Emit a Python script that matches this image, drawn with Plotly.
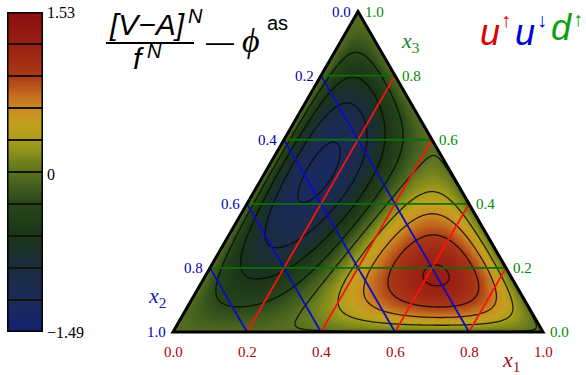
import numpy as np
import plotly.graph_objects as go

# ---------------- data ----------------
v_min, v_max = -1.49, 1.53          # colour range
n_bands = 10                        # number of colour bands / contour steps
# deviation from asymptotic DA: 120*x1*x2*x3*(c1*x1 + c2*x2 + c3*x3)
norm = 120.0
coef_x1, coef_x2, coef_x3 = 1.145, -0.473, -0.81
grid_ticks = [0.2, 0.4, 0.6, 0.8]
edge_ticks = [0.0, 0.2, 0.4, 0.6, 0.8, 1.0]
edge_text = ["0.0", "0.2", "0.4", "0.6", "0.8", "1.0"]
cbar_ticks = [1.53, 0.0, -1.49]
cbar_text = ["1.53", "0", "\u22121.49"]

colorscale = [
    [0.00, "#15206e"], [0.10, "#1a2a5a"], [0.20, "#1a2c40"],
    [0.30, "#1a3418"], [0.40, "#26461a"], [0.50, "#587020"],
    [0.55, "#808a1c"], [0.60, "#a89e1a"], [0.65, "#c4a020"],
    [0.70, "#cc8c22"], [0.75, "#c0661e"], [0.80, "#aa3a18"],
    [0.90, "#9a1e12"], [1.00, "#8a1010"],
]

# ---------------- geometry ----------------
H = np.sqrt(3) / 2
PX = 370.0                  # pixels per unit triangle side
OX, OY = 173.0, 332.0       # pixel position of bottom-left vertex
W, HH = 586, 375

def tern(x1, x2, x3):
    x1 = np.asarray(x1, float); x3 = np.asarray(x3, float)
    return x1 + x3 / 2, x3 * H

step = (v_max - v_min) / n_bands
levels = [v_min + step * k for k in range(1, n_bands)]

# field on grid
nx, ny = 320, 280
Xg = np.linspace(0, 1, nx)
Yg = np.linspace(0, H, ny)
XX, YY = np.meshgrid(Xg, Yg)
X3 = YY / H
X1 = XX - X3 / 2
X2 = 1 - X1 - X3
Z = norm * X1 * X2 * X3 * (coef_x1 * X1 + coef_x2 * X2 + coef_x3 * X3)

fig = go.Figure()
fig.add_trace(go.Contour(
    x=Xg, y=Yg, z=Z, colorscale=colorscale, zmin=v_min, zmax=v_max, zauto=False,
    contours=dict(start=levels[0], end=levels[-1] + step / 2, size=step, coloring="heatmap"),
    line=dict(color="rgba(10,10,0,0.85)", width=1.3), showscale=False, hoverinfo="skip",
))

red, blue, green = "#ff1010", "#0a0ac8", "#0a700a"
for c in grid_ticks:
    x, y = tern([c, c], [1 - c, 0], [0, 1 - c])
    fig.add_trace(go.Scatter(x=x, y=y, mode="lines", line=dict(color=red, width=1.8), hoverinfo="skip"))
for c in grid_ticks:
    x, y = tern([0, 1 - c], [c, c], [1 - c, 0])
    fig.add_trace(go.Scatter(x=x, y=y, mode="lines", line=dict(color=blue, width=1.8), hoverinfo="skip"))
for c in grid_ticks:
    x, y = tern([0, 1 - c], [1 - c, 0], [c, c])
    fig.add_trace(go.Scatter(x=x, y=y, mode="lines", line=dict(color=green, width=1.8), hoverinfo="skip"))

# colour bar
cb_vals = np.linspace(v_min, v_max, 151)
fig.add_trace(go.Heatmap(
    x=[0, 1], y=cb_vals, z=np.column_stack([cb_vals, cb_vals]),
    colorscale=colorscale, zmin=v_min, zmax=v_max, zsmooth="best",
    showscale=False, hoverinfo="skip", xaxis="x2", yaxis="y2",
))

shapes = []
# white mask outside triangle
shapes.append(dict(type="path", xref="x", yref="y", layer="above",
                   path=f"M -0.2 -0.2 L 1.2 -0.2 L 1.2 1.2 L -0.2 1.2 Z M 0 0 L 0.5 {H} L 1 0 Z",
                   fillcolor="white", line=dict(width=0)))
shapes.append(dict(type="path", xref="x", yref="y", layer="above",
                   path=f"M 0 0 L 0.5 {H} L 1 0 Z", line=dict(color="black", width=3)))
for lv in levels:
    shapes.append(dict(type="line", xref="x2", yref="y2", x0=0, x1=1, y0=lv, y1=lv,
                       line=dict(color="#1a1208", width=2)))
shapes.append(dict(type="rect", xref="x2", yref="y2", x0=0, x1=1, y0=v_min, y1=v_max,
                   line=dict(color="black", width=3)))

def ppx(px):
    return px / W
def ppy(py):
    return 1 - py / HH

# fraction bar of the title
shapes.append(dict(type="line", xref="paper", yref="paper", x0=ppx(106), x1=ppx(194),
                   y0=ppy(43), y1=ppy(43), line=dict(color="black", width=2)))

ann = []
serif = "Liberation Serif"
sans = "Liberation Sans"
tick_font = 15
# bottom (x1, red)
for t, s in zip(edge_ticks, edge_text):
    x, y = tern(t, 1 - t, 0)
    ann.append(dict(x=float(x), y=float(y), text=s, showarrow=False, xanchor="center", yanchor="middle",
                    yshift=-20, font=dict(family=serif, size=tick_font, color="#b00000")))
# left (x2, blue)
for t, s in zip(edge_ticks, edge_text):
    x, y = tern(0, t, 1 - t)
    ann.append(dict(x=float(x), y=float(y), text=s, showarrow=False, xanchor="right", yanchor="middle",
                    xshift=-5, font=dict(family=serif, size=tick_font, color="#0000b0")))
# right (x3, green)
for t, s in zip(edge_ticks, edge_text):
    x, y = tern(1 - t, 0, t)
    ann.append(dict(x=float(x), y=float(y), text=s, showarrow=False, xanchor="left", yanchor="middle",
                    xshift=5, font=dict(family=serif, size=tick_font, color="#008a00")))

def pa(px, py, text, size, color="black", family=sans, xanchor="center", yanchor="middle"):
    ann.append(dict(xref="paper", yref="paper", x=ppx(px), y=ppy(py), text=text, showarrow=False,
                    xanchor=xanchor, yanchor=yanchor, font=dict(family=family, size=size, color=color)))

# axis names
pa(410, 42, "<i>x</i><sub>3</sub>", 22, "#1a8a1a", serif)
pa(157, 297, "<i>x</i><sub>2</sub>", 22, "#1a1ac0", serif)
pa(511, 361, "<i>x</i><sub>1</sub>", 22, "#a01010", serif)

# title
pa(147, 24, "<i>[V\u2212A]</i>", 30)
pa(195, 16, "<i>N</i>", 20)
pa(138, 58, "<i>f</i>", 30)
pa(154, 51, "<i>N</i>", 20)
pa(220, 42, "\u2014", 28)
pa(251, 40, "<i>\u03d5</i>", 34, family=serif)
pa(277, 23, "as", 20)

# u d labels
pa(490, 33, "<i>u</i>", 36, "#dd0000")
pa(506, 20, "\u2191", 20, "#dd0000")
pa(525, 33, "<i>u</i>", 36, "#0000dd")
pa(542, 20, "\u2193", 20, "#0000dd")
pa(561, 28, "<i>d</i>", 36, "#10a010")
pa(578, 19, "\u2191", 20, "#10a010")

# colour bar ticks
for v, s in zip(cbar_ticks, cbar_text):
    ann.append(dict(xref="x2", yref="y2", x=1, y=v, text=s, showarrow=False, xanchor="left",
                    yanchor="middle", xshift=2, font=dict(family=serif, size=16, color="black")))

fig.update_layout(
    width=W, height=HH, margin=dict(l=0, r=0, t=0, b=0),
    paper_bgcolor="white", plot_bgcolor="white", showlegend=False,
    xaxis=dict(range=[-OX / PX, (W - OX) / PX], domain=[0, 1], visible=False, fixedrange=True),
    yaxis=dict(range=[-(HH - OY) / PX, OY / PX], domain=[0, 1], visible=False, fixedrange=True),
    xaxis2=dict(range=[0, 1], domain=[7 / W, 43 / W], anchor="y2", visible=False, fixedrange=True),
    yaxis2=dict(range=[v_min, v_max], domain=[1 - 332 / HH, 1 - 12 / HH], anchor="x2", visible=False,
                fixedrange=True),
    shapes=shapes, annotations=ann,
)
fig.write_html("out.html", config={"displayModeBar": False},
               post_script="document.body.style.margin='0';document.body.style.padding='0';")
